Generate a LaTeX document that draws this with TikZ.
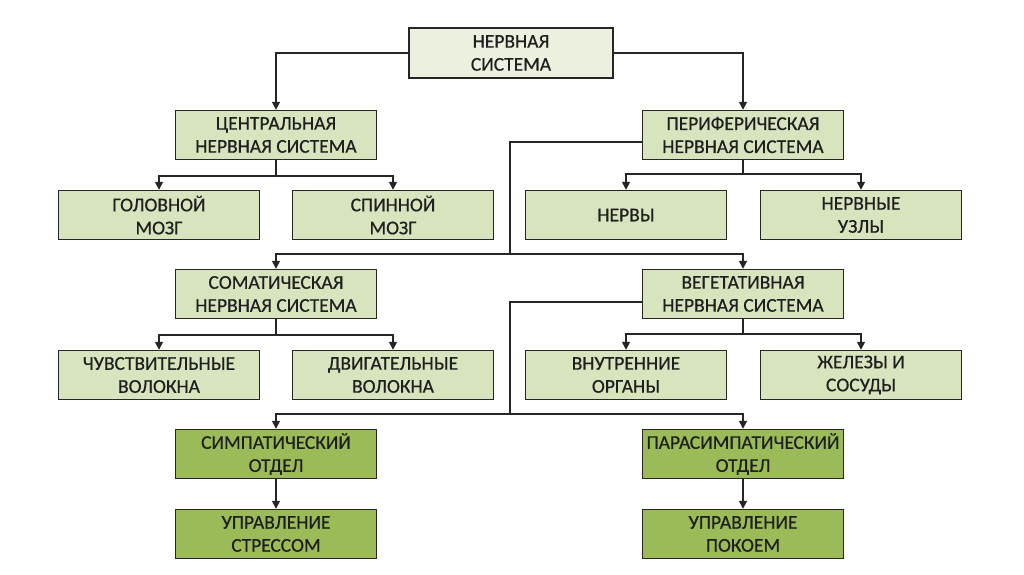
\documentclass[tikz,border=0pt]{standalone}
\usepackage{fontspec}
\setmainfont{Carlito}
\newfontfamily\boxfont{Carlito}[FakeBold=0.5]
\usetikzlibrary{arrows.meta}
\definecolor{rootfill}{HTML}{EBF1DE}
\definecolor{lightfill}{HTML}{D7E4BD}
\definecolor{darkfill}{HTML}{9BBB59}
\definecolor{txt}{HTML}{1F1F1F}
\tikzset{
  box/.style={draw=black!85, line width=1.4pt, fill=lightfill, minimum width=201pt, minimum height=49pt,
    inner sep=0pt, align=center, text=txt, font=\boxfont\fontsize{19.5}{23}\selectfont},
  rootbox/.style={box, fill=rootfill, minimum width=204pt, minimum height=50pt},
  darkbox/.style={box, fill=darkfill},
  conn/.style={line width=1.4pt, draw=black!85},
  arr/.style={conn, -{Triangle[width=8pt,length=8pt]}},
}
\begin{document}
\begin{tikzpicture}[x=1pt,y=-1pt]
\useasboundingbox[fill=white] (0,0) rectangle (1024,574);
\node[rootbox] (root) at (511,53) {НЕРВНАЯ\\СИСТЕМА};
\node[box] (cns) at (276,135) {ЦЕНТРАЛЬНАЯ\\НЕРВНАЯ СИСТЕМА};
\node[box] (pns) at (743,135) {ПЕРИФЕРИЧЕСКАЯ\\НЕРВНАЯ СИСТЕМА};
\node[box] (golov) at (159,215) {ГОЛОВНОЙ\\МОЗГ};
\node[box] (spin) at (393,215) {СПИННОЙ\\МОЗГ};
\node[box] (nervy) at (626,215) {НЕРВЫ};
\node[box] (uzly) at (861,215) {НЕРВНЫЕ\\УЗЛЫ};
\node[box] (som) at (276,294) {СОМАТИЧЕСКАЯ\\НЕРВНАЯ СИСТЕМА};
\node[box] (veg) at (743,294) {ВЕГЕТАТИВНАЯ\\НЕРВНАЯ СИСТЕМА};
\node[box] (chuv) at (159,375) {ЧУВСТВИТЕЛЬНЫЕ\\ВОЛОКНА};
\node[box] (dvig) at (393,375) {ДВИГАТЕЛЬНЫЕ\\ВОЛОКНА};
\node[box] (vnut) at (626,375) {ВНУТРЕННИЕ\\ОРГАНЫ};
\node[box] (zhel) at (861,375) {ЖЕЛЕЗЫ И\\СОСУДЫ};
\node[darkbox] (simp) at (276,454) {СИМПАТИЧЕСКИЙ\\ОТДЕЛ};
\node[darkbox] (para) at (743,454) {ПАРАСИМПАТИЧЕСКИЙ\\ОТДЕЛ};
\node[darkbox] (stress) at (276,534) {УПРАВЛЕНИЕ\\СТРЕССОМ};
\node[darkbox] (pokoy) at (743,534) {УПРАВЛЕНИЕ\\ПОКОЕМ};
% root
\draw[arr] (root.west) -| (cns.north);
\draw[arr] (root.east) -| (pns.north);
% cns children
\coordinate (j1) at (276,176);
\draw[conn] (cns.south) -- (j1);
\draw[arr] (j1) -| (golov.north);
\draw[arr] (j1) -| (spin.north);
% pns children
\coordinate (j2) at (743,174);
\draw[conn] (pns.south) -- (j2);
\draw[arr] (j2) -| (nervy.north);
\draw[arr] (j2) -| (uzly.north);
% pns -> som / veg
\coordinate (b1) at (510,254);
\draw[conn] ([yshift=-7pt]pns.west) -| (b1);
\draw[arr] (b1) -| (som.north);
\draw[arr] (b1) -| (veg.north);
% som children
\coordinate (j3) at (276,335);
\draw[conn] (som.south) -- (j3);
\draw[arr] (j3) -| (chuv.north);
\draw[arr] (j3) -| (dvig.north);
% veg children
\coordinate (j4) at (743,334);
\draw[conn] (veg.south) -- (j4);
\draw[arr] (j4) -| (vnut.north);
\draw[arr] (j4) -| (zhel.north);
% veg -> simp / para
\coordinate (b2) at (510,414);
\draw[conn] ([yshift=-8pt]veg.west) -| (b2);
\draw[arr] (b2) -| (simp.north);
\draw[arr] (b2) -| (para.north);
% bottom
\draw[arr] (simp) -- (stress);
\draw[arr] (para) -- (pokoy);
\end{tikzpicture}
\end{document}
